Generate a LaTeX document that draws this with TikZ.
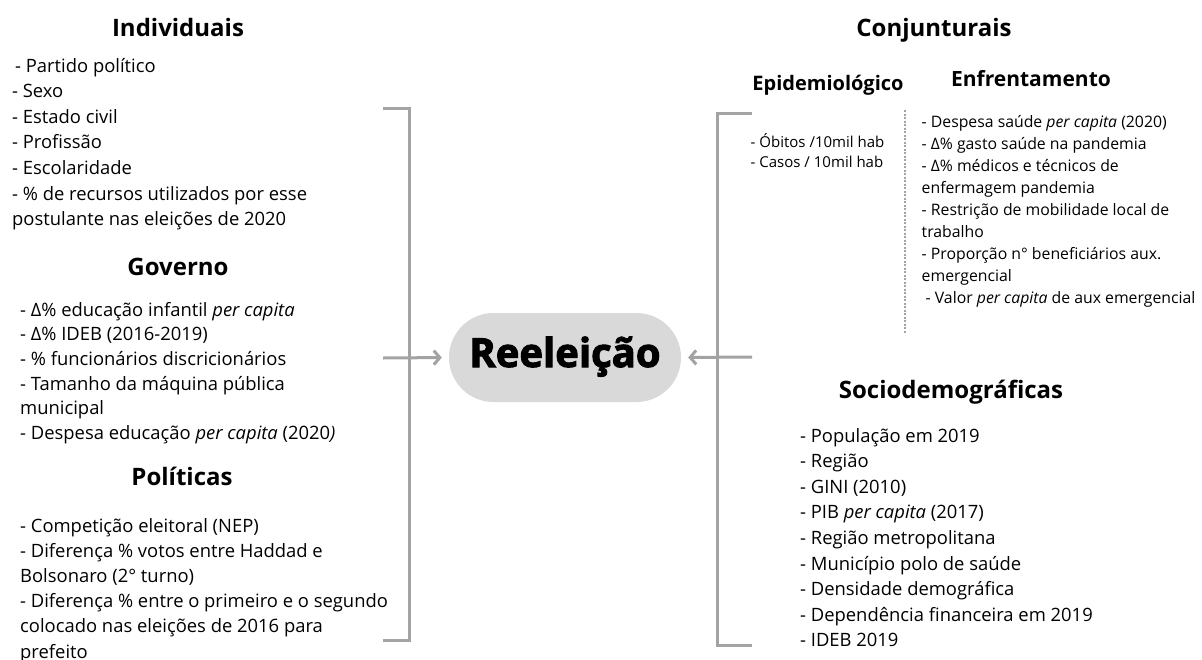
\documentclass[tikz,border=0pt]{standalone}
\usepackage{fontspec}
\setmainfont{Open Sans}
\usetikzlibrary{arrows.meta}
\definecolor{linegray}{HTML}{A3A3A3}
\definecolor{pillgray}{HTML}{D9D9D9}

\begin{document}
\begin{tikzpicture}[x=1pt, y=-1pt,
  head/.style={font=\fontsize{24}{28}\selectfont\bfseries, anchor=base, inner sep=0pt},
  subhead/.style={font=\fontsize{20}{24}\selectfont\bfseries, anchor=base, inner sep=0pt},
  item/.style={font=\fontsize{18.4}{22}\selectfont, anchor=base west, inner sep=0pt},
  enfitem/.style={font=\fontsize{15.8}{18}\selectfont, anchor=base west, inner sep=0pt},
  epiitem/.style={font=\fontsize{15}{17}\selectfont, anchor=base west, inner sep=0pt},
  link/.style={linegray, line width=3pt},
  arr/.style={link, -{Straight Barb[length=6pt, width=14pt]}, shorten >=7pt},
  pill/.style={fill=pillgray, rounded corners=44.5pt, minimum width=232pt, minimum height=89pt,
    font=\fontsize{40}{44}\selectfont\bfseries\addfontfeature{FakeBold=2.5},
    text height=29pt, text depth=10pt}
]
\useasboundingbox (0,0) rectangle (1202,659);

% Centre
\node[pill] (reel) at (565,357.5) {Reeleição};

% Left side: headings
\node[head] (individuais) at (178,36) {Individuais};
\node[head] (governo) at (178,275) {Governo};
\node[head] (politicas) at (182,485) {Políticas};

% Left side: lists
\foreach \txt [count=\i from 0] in {{\hspace{3pt}- Partido político}, {- Sexo}, {- Estado civil},
    {- Profissão}, {- Escolaridade}, {- \% de recursos utilizados por esse},
    {postulante nas eleições de 2020}}
  \node[item] (ind\i) at (12,{72+25.6*\i}) {\txt};
\foreach \txt [count=\i from 0] in {{- Δ\% educação infantil \textit{per capita}},
    {- Δ\% IDEB (2016-2019)}, {- \% funcionários discricionários},
    {- Tamanho da máquina pública}, {municipal},
    {- Despesa educação \textit{per capita} (2020\textit{)}}}
  \node[item] (gov\i) at (20,{316+24.7*\i}) {\txt};
\foreach \txt [count=\i from 0] in {{- Competição eleitoral (NEP)},
    {- Diferença \% votos entre Haddad e}, {Bolsonaro (2° turno)},
    {- Diferença \% entre o primeiro e o segundo}, {colocado nas eleições de 2016 para},
    {prefeito}}
  \node[item] (pol\i) at (20,{532+25.2*\i}) {\txt};

% Left bracket and arrow
\coordinate (lt) at (383,108);
\coordinate (lb) at (383,640);
\coordinate (lin) at (383,358);
\draw[link] (lt) -- (409,108) -- (409,640) -- (lb);
\draw[arr] (lin) -- (reel.west);

% Right side: headings
\node[head] (conjunturais) at (934,36) {Conjunturais};
\node[subhead] (epi) at (828,90) {Epidemiológico};
\node[subhead, font=\fontsize{21}{24}\selectfont\bfseries] (enf) at (1031,86) {Enfrentamento};
\node[head] (socio) at (951,398) {Sociodemográficas};

% Right side: lists
\node[epiitem] (epi0) at (750.5,147) {- Óbitos /10mil hab};
\node[epiitem] (epi1) at (750.5,167) {- Casos / 10mil hab};
\foreach \txt [count=\i from 0] in {{- Despesa saúde \textit{per capita} (2020)},
    {- Δ\% gasto saúde na pandemia}, {- Δ\% médicos e técnicos de},
    {enfermagem pandemia}, {- Restrição de mobilidade local de}, {trabalho},
    {- Proporção n° beneficiários aux.}, {emergencial},
    {\hspace{4pt}- Valor \textit{per capita} de aux emergencial}}
  \node[enfitem] (enf\i) at (921.5,{127+22*\i}) {\txt};
\foreach \txt [count=\i from 0] in {{- População em 2019}, {- Região}, {- GINI (2010)},
    {- PIB \textit{per capita} (2017)}, {- Região metropolitana},
    {- Município polo de saúde}, {- Densidade demográfica},
    {- Dependência financeira em 2019}, {- IDEB 2019}}
  \node[item] (soc\i) at (800,{442+25.6*\i}) {\txt};

% Dotted separator
\coordinate (dtop) at (905,110);
\coordinate (dbot) at (905,333);
\draw[linegray, line width=2.5pt, dash pattern=on 2pt off 1.5pt] (dtop) -- (dbot);

% Right bracket and arrow
\coordinate (rt) at (752,113);
\coordinate (rb) at (752,645);
\coordinate (rin) at (752,357);
\draw[link] (rt) -- (717,113) -- (717,645) -- (rb);
\draw[arr] (rin) -- (reel.east);
\end{tikzpicture}
\end{document}
